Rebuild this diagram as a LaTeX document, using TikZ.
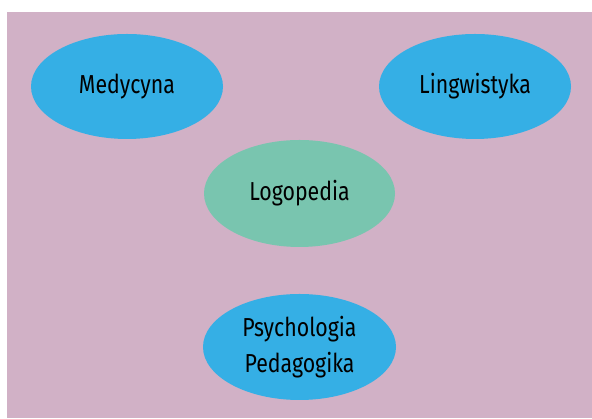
\documentclass[tikz,border=0pt]{standalone}
\usepackage{fontspec}
\setmainfont[FakeStretch=0.82]{Fira Sans}
\definecolor{bg}{HTML}{D1B1C6}
\definecolor{blu}{HTML}{35AFE5}
\definecolor{grn}{HTML}{79C5AF}
\begin{document}
\begin{tikzpicture}[x=1pt,y=1pt,
  ell/.style={ellipse, inner sep=0pt, font=\fontsize{26}{36}\selectfont, text=black, align=center}]
\usetikzlibrary{shapes.geometric}
\useasboundingbox (0,0) rectangle (592,419);
\fill[bg] (7,1) rectangle (592,407);
\node[ell, fill=blu, minimum width=192pt, minimum height=105pt] (med) at (127,332.5) {Medycyna};
\node[ell, fill=blu, minimum width=192pt, minimum height=105pt] (lin) at (475,332.5) {Lingwistyka};
\node[ell, fill=grn, minimum width=191pt, minimum height=107pt] (logo) at (299.5,225.5) {Logopedia};
\node[ell, fill=blu, minimum width=193pt, minimum height=106pt] (psy) at (299.5,72) {Psychologia\\Pedagogika};
\end{tikzpicture}
\end{document}
